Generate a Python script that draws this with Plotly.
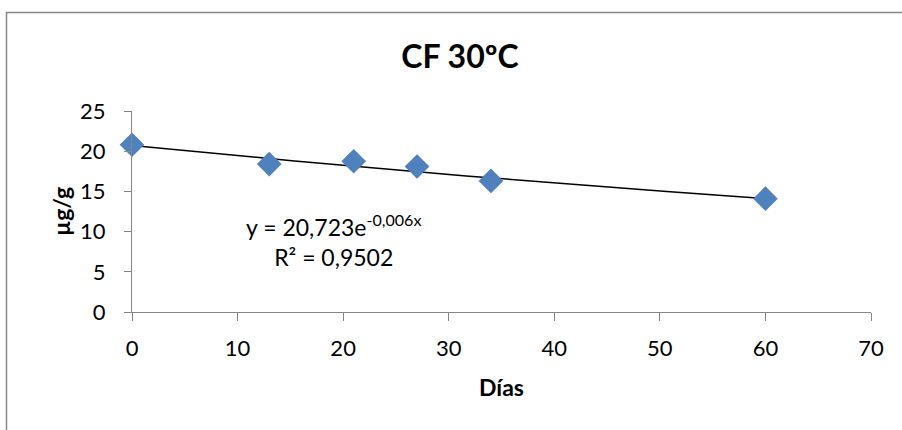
import numpy as np
import plotly.graph_objects as go

# Storage time (days) and measured concentration (µg/g)
dias = [0, 13, 21, 27, 34, 60]
conc = [20.8, 18.4, 18.75, 18.1, 16.3, 14.1]

# Exponential trend line y = A * exp(K * x)
TREND_A = 20.723
TREND_K = -0.0064
R2 = 0.9502

x_ticks = [0, 10, 20, 30, 40, 50, 60, 70]
y_ticks = [0, 5, 10, 15, 20, 25]

W, H = 902, 430
ML, MR, MT, MB = 132, 31, 111, 118
PW, PH = W - ML - MR, H - MT - MB

def px_x(px):
    return (px - ML) / PW

def px_y(py):
    return (H - MB - py) / PH

FONT = "Lato, Carlito, Calibri, sans-serif"
AXIS_GREY = "#868686"

fig = go.Figure()

xt = np.linspace(0, max(dias), 200)
fig.add_trace(go.Scatter(
    x=xt, y=TREND_A * np.exp(TREND_K * xt), mode="lines",
    line=dict(color="black", width=1.5), hoverinfo="skip", showlegend=False,
))
fig.add_trace(go.Scatter(
    x=dias, y=conc, mode="markers", cliponaxis=False,
    marker=dict(symbol="diamond", size=19, color="#4F81BD",
                line=dict(width=0)),
    showlegend=False,
))

def fmt(v, d):
    return f"{v:.{d}f}".replace(".", ",")

eq_text = (f"y = {fmt(TREND_A, 3)}e<sup>{fmt(TREND_K, 3)}x</sup>"
           f"<br>R² = {fmt(R2, 4)}")

fig.add_annotation(
    x=px_x(333), y=px_y(240), xref="paper", yref="paper",
    xanchor="center", yanchor="middle",
    text=eq_text, showarrow=False, align="center",
    font=dict(family=FONT, size=23, color="black"),
)
fig.add_annotation(
    x=px_x(501), y=px_y(387), xref="paper", yref="paper",
    xanchor="center", yanchor="middle",
    text="<b>Días</b>", showarrow=False,
    font=dict(family=FONT, size=23, color="black"),
)
fig.add_annotation(
    x=px_x(61), y=px_y(212), xref="paper", yref="paper",
    xanchor="center", yanchor="middle",
    text="<b>µg/g</b>", showarrow=False, textangle=-90,
    font=dict(family=FONT, size=23, color="black"),
)

# chart-area frame
fig.add_shape(
    type="rect", xref="paper", yref="paper",
    x0=px_x(6.5), x1=px_x(W + 20), y0=px_y(H + 20), y1=px_y(12.5),
    line=dict(color="#878787", width=1.5), layer="below",
)

fig.update_layout(
    width=W, height=H, autosize=False,
    margin=dict(l=ML, r=MR, t=MT, b=MB),
    paper_bgcolor="white", plot_bgcolor="white",
    font=dict(family=FONT, size=22, color="black"),
    title=dict(
        text="<b>CF 30ºC</b>", xref="container", yref="container",
        x=460 / W, y=1 - 57 / H, xanchor="center", yanchor="middle",
        font=dict(family=FONT, size=32, color="black"),
    ),
    xaxis=dict(
        range=[0, 70], tickvals=x_ticks, ticks="outside", ticklen=8,
        tickcolor=AXIS_GREY, showline=True, linecolor=AXIS_GREY,
        showgrid=False, zeroline=False, ticklabelstandoff=9,
        tickfont=dict(family=FONT, size=22, color="black"),
    ),
    yaxis=dict(
        range=[0, 25], tickvals=y_ticks, ticks="outside", ticklen=7,
        tickcolor=AXIS_GREY, showline=True, linecolor=AXIS_GREY,
        showgrid=False, zeroline=False, ticklabelstandoff=14,
        tickfont=dict(family=FONT, size=22, color="black"),
    ),
)

fig.write_html("out.html")
